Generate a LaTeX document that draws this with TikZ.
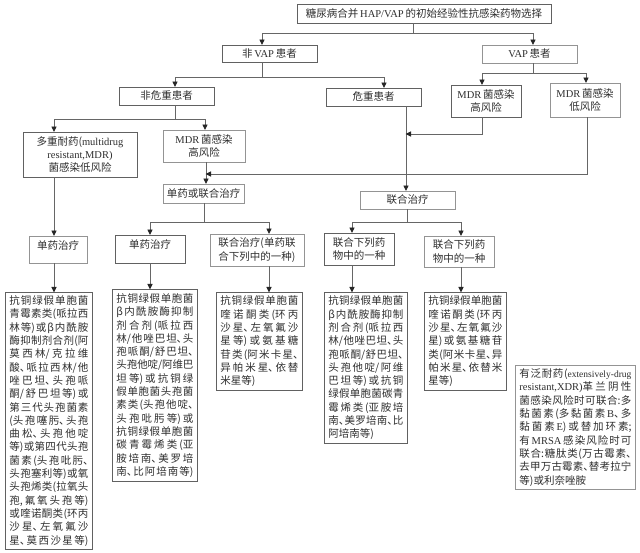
\documentclass[tikz,border=0pt]{standalone}
\usepackage{fontspec}
\setmainfont{Noto Sans CJK SC}[RawFeature={+palt}]
\newfontfamily\latfont{Liberation Serif}
\usetikzlibrary{arrows.meta}

\XeTeXlinebreaklocale "zh"
\XeTeXlinebreakskip=0pt plus 3pt minus 0.5pt
\newcommand{\lat}[1]{{\latfont\fontsize{10.5}{13.3}\selectfont #1}}
\newcommand{\latsm}[1]{{\latfont\fontsize{9.5}{13.3}\selectfont #1}}
\newcommand{\jl}[1]{{\parfillskip=0pt\tolerance=9999\hbadness=10000\noindent #1\par}}

\tikzset{
	box/.style={draw=black!62, line width=0.9pt, inner sep=0pt, align=center, text=black!82, font=\fontsize{10.5}{13.3}\selectfont},
	boxlt/.style={box, draw=black!42},
	drug/.style={box, anchor=north west, align=justify},
	line/.style={draw=black!60, line width=0.9pt},
	flow/.style={line, -{Triangle[length=5.5pt,width=5pt,color=black!85]}, shorten >=-0.5pt}
}

\begin{document}
\begin{tikzpicture}[x=1pt, y=-1pt]
	\useasboundingbox (0, 0) rectangle (640, 553);
	
	\node[box, minimum width=254, minimum height=19] (top) at (424, 13.5) {糖尿病合并\,\lat{HAP/VAP}\,的初始经验性抗感染药物选择};
	
	\node[box, minimum width=95, minimum height=17] (nonvap) at (269.5, 53.5) {非\,\lat{VAP}\,患者};
	\node[boxlt, minimum width=95, minimum height=18] (vap) at (529.5, 54) {\lat{VAP}\,患者};
	\node[box, minimum width=95, minimum height=18] (noncrit) at (166.5, 96) {非危重患者};
	\node[box, minimum width=95, minimum height=18] (crit) at (373.5, 97) {危重患者};
	\node[box, minimum width=70, minimum height=32] (vaphigh) at (486, 101) {\lat{MDR}\,菌感染\\高风险};
	\node[boxlt, minimum width=70, minimum height=34] (vaplow) at (585, 100) {\lat{MDR}\,菌感染\\低风险};
	
	\node[box, minimum width=114, minimum height=45] (mdrlow) at (80, 154.5) {多重耐药(\lat{multidrug}\\\lat{resistant,MDR)}\\菌感染低风险};
	\node[boxlt, minimum width=82, minimum height=32] (mdrhigh) at (204, 146) {\lat{MDR}\,菌感染\\高风险};
	\node[boxlt, minimum width=81, minimum height=19] (monocomb) at (203.5, 193.5) {单药或联合治疗};
	\node[boxlt, minimum width=95, minimum height=18] (comb) at (407.5, 200) {联合治疗};
	
	\node[boxlt, minimum width=58, minimum height=27, text depth=9pt] (monoa) at (58, 249.5) {单药治疗};
	\node[box, minimum width=70, minimum height=28, text depth=9pt] (monob) at (150, 249) {单药治疗};
	\node[boxlt, minimum width=94, minimum height=32] (combb) at (257, 250) {联合治疗(单药联\\合下列中的一种)};
	\node[box, minimum width=70, minimum height=32] (combc) at (359, 249) {联合下列药\\物中的一种};
	\node[boxlt, minimum width=70, minimum height=31] (combd) at (459, 251.5) {联合下列药\\物中的一种};
	
	% drug lists
	\node[drug, minimum width=87, minimum height=257, text width=79, inner ysep=3pt] (druga) at (5, 292) {
		\jl{抗铜绿假单胞菌}\jl{青霉素类(哌拉西}\jl{林等)或β内酰胺}\jl{酶抑制剂合剂(阿}\jl{莫西林/克拉维}\jl{酸、哌拉西林/他}\jl{唑巴坦、头孢哌}\jl{酮/舒巴坦等)或}\jl{第三代头孢菌素}\jl{(头孢噻肟、头孢}\jl{曲松、头孢他啶}\jl{等)或第四代头孢}\jl{菌素(头孢吡肟、}\jl{头孢塞利等)或氧}\jl{头孢烯类(拉氧头}\jl{孢,氟氧头孢等)}\jl{或喹诺酮类(环丙}\jl{沙星、左氧氟沙}\jl{星、莫西沙星等)}};
	\node[drug, minimum width=85, minimum height=192, text width=77, inner ysep=3pt] (drugb) at (112, 289) {
		\jl{抗铜绿假单胞菌}\jl{β内酰胺酶抑制}\jl{剂合剂(哌拉西}\jl{林/他唑巴坦、头}\jl{孢哌酮/舒巴坦、}\jl{头孢他啶/阿维巴}\jl{坦等)或抗铜绿}\jl{假单胞菌头孢菌}\jl{素类(头孢他啶、}\jl{头孢吡肟等)或}\jl{抗铜绿假单胞菌}\jl{碳青霉烯类(亚}\jl{胺培南、美罗培}\jl{南、比阿培南等)}};
	\node[drug, minimum width=86, minimum height=98, text width=78, inner ysep=3pt] (drugc) at (216, 292) {
		\jl{抗铜绿假单胞菌}\jl{喹诺酮类(环丙}\jl{沙星、左氧氟沙}\jl{星等)或氨基糖}\jl{苷类(阿米卡星、}\jl{异帕米星、依替}米星等)};
	\node[drug, minimum width=83, minimum height=151, text width=75, inner ysep=3pt] (drugd) at (324, 292) {
		\jl{抗铜绿假单胞菌}\jl{β内酰胺酶抑制}\jl{剂合剂(哌拉西}\jl{林/他唑巴坦、头}\jl{孢哌酮/舒巴坦、}\jl{头孢他啶/阿维}\jl{巴坦等)或抗铜}\jl{绿假单胞菌碳青}\jl{霉烯类(亚胺培}\jl{南、美罗培南、比}阿培南等)};
	\node[drug, minimum width=82, minimum height=98, text width=74, inner ysep=3pt] (druge) at (424, 292) {
		\jl{抗铜绿假单胞菌}\jl{喹诺酮类(环丙}\jl{沙星、左氧氟沙}\jl{星)或氨基糖苷}\jl{类(阿米卡星、异}\jl{帕米星、依替米}星等)};
	\node[drug, draw=black!42, minimum width=120, minimum height=124, text width=112, inner ysep=3pt] (drugf) at (515, 365) {
		\jl{有泛耐药(\latsm{extensively-drug}}\jl{\lat{resistant,XDR)}革兰阴性}\jl{菌感染风险时可联合:多}\jl{黏菌素(多黏菌素\,\lat{B}、多}\jl{黏菌素\,\lat{E})或替加环素;}\jl{有\,\lat{MRSA}\,感染风险时可}\jl{联合:糖肽类(万古霉素、}\jl{去甲万古霉素、替考拉宁}等)或利奈唑胺};
	
	% top level
	\coordinate (t1) at (413, 33);
	\coordinate (t1l) at (262, 33);
	\coordinate (t1r) at (533, 33);
	\draw[line] (top.south -| t1) -- (t1);
	\draw[flow] (t1) -- (t1l) -- (t1l |- nonvap.north);
	\draw[flow] (t1) -- (t1r) -- (t1r |- vap.north);
	
	\coordinate (t2) at (262, 77);
	\coordinate (t2l) at (175, 77);
	\coordinate (t2r) at (384, 77);
	\draw[line] (nonvap.south -| t2) -- (t2);
	\draw[flow] (t2) -- (t2l) -- (t2l |- noncrit.north);
	\draw[flow] (t2) -- (t2r) -- (t2r |- crit.north);
	
	\coordinate (t3) at (533, 73);
	\coordinate (t3l) at (482, 73);
	\coordinate (t3r) at (586, 73);
	\draw[line] (vap.south -| t3) -- (t3);
	\draw[flow] (t3) -- (t3l) -- (t3l |- vaphigh.north);
	\draw[flow] (t3) -- (t3r) -- (t3r |- vaplow.north);
	
	\coordinate (t4) at (175, 119);
	\coordinate (t4l) at (54, 119);
	\coordinate (t4r) at (205, 119);
	\draw[line] (noncrit.south -| t4) -- (t4);
	\draw[flow] (t4) -- (t4l) -- (t4l |- mdrlow.north);
	\draw[flow] (t4) -- (t4r) -- (t4r |- mdrhigh.north);
	
	% middle
	\coordinate (m1) at (206, 174);
	\coordinate (m2) at (587, 174);
	\coordinate (m3) at (406, 134);
	\coordinate (m4) at (482, 134);
	\draw[flow] (mdrhigh.south -| m1) -- (monocomb.north -| m1);
	\draw[flow] (vaplow.south -| m2) -- (m2) -- (m1);
	\draw[flow] (crit.south -| m3) -- (comb.north -| m3);
	\draw[flow] (vaphigh.south -| m4) -- (m4) -- (m3);
	
	\coordinate (t5) at (204.5, 222);
	\coordinate (t5l) at (150, 222);
	\coordinate (t5r) at (269, 222);
	\draw[line] (monocomb.south -| t5) -- (t5);
	\draw[flow] (t5) -- (t5l) -- (t5l |- monob.north);
	\draw[flow] (t5) -- (t5r) -- (t5r |- combb.north);
	
	\coordinate (t6) at (407, 222);
	\coordinate (t6l) at (352, 222);
	\coordinate (t6r) at (461, 222);
	\draw[line] (comb.south -| t6) -- (t6);
	\draw[flow] (t6) -- (t6l) -- (t6l |- combc.north);
	\draw[flow] (t6) -- (t6r) -- (t6r |- combd.north);
	
	% down to the lists
	\coordinate (d1) at (54, 0);
	\draw[flow] (mdrlow.south -| d1) -- (monoa.north -| d1);
	\draw[flow] (monoa.south -| d1) -- (druga.north -| d1);
	\draw[flow] (monob.south -| t5l) -- (drugb.north -| t5l);
	\draw[flow] (combb.south -| t5r) -- (drugc.north -| t5r);
	\draw[flow] (combc.south -| t6l) -- (drugd.north -| t6l);
	\draw[flow] (combd.south -| t6r) -- (druge.north -| t6r);
\end{tikzpicture}
\end{document}
